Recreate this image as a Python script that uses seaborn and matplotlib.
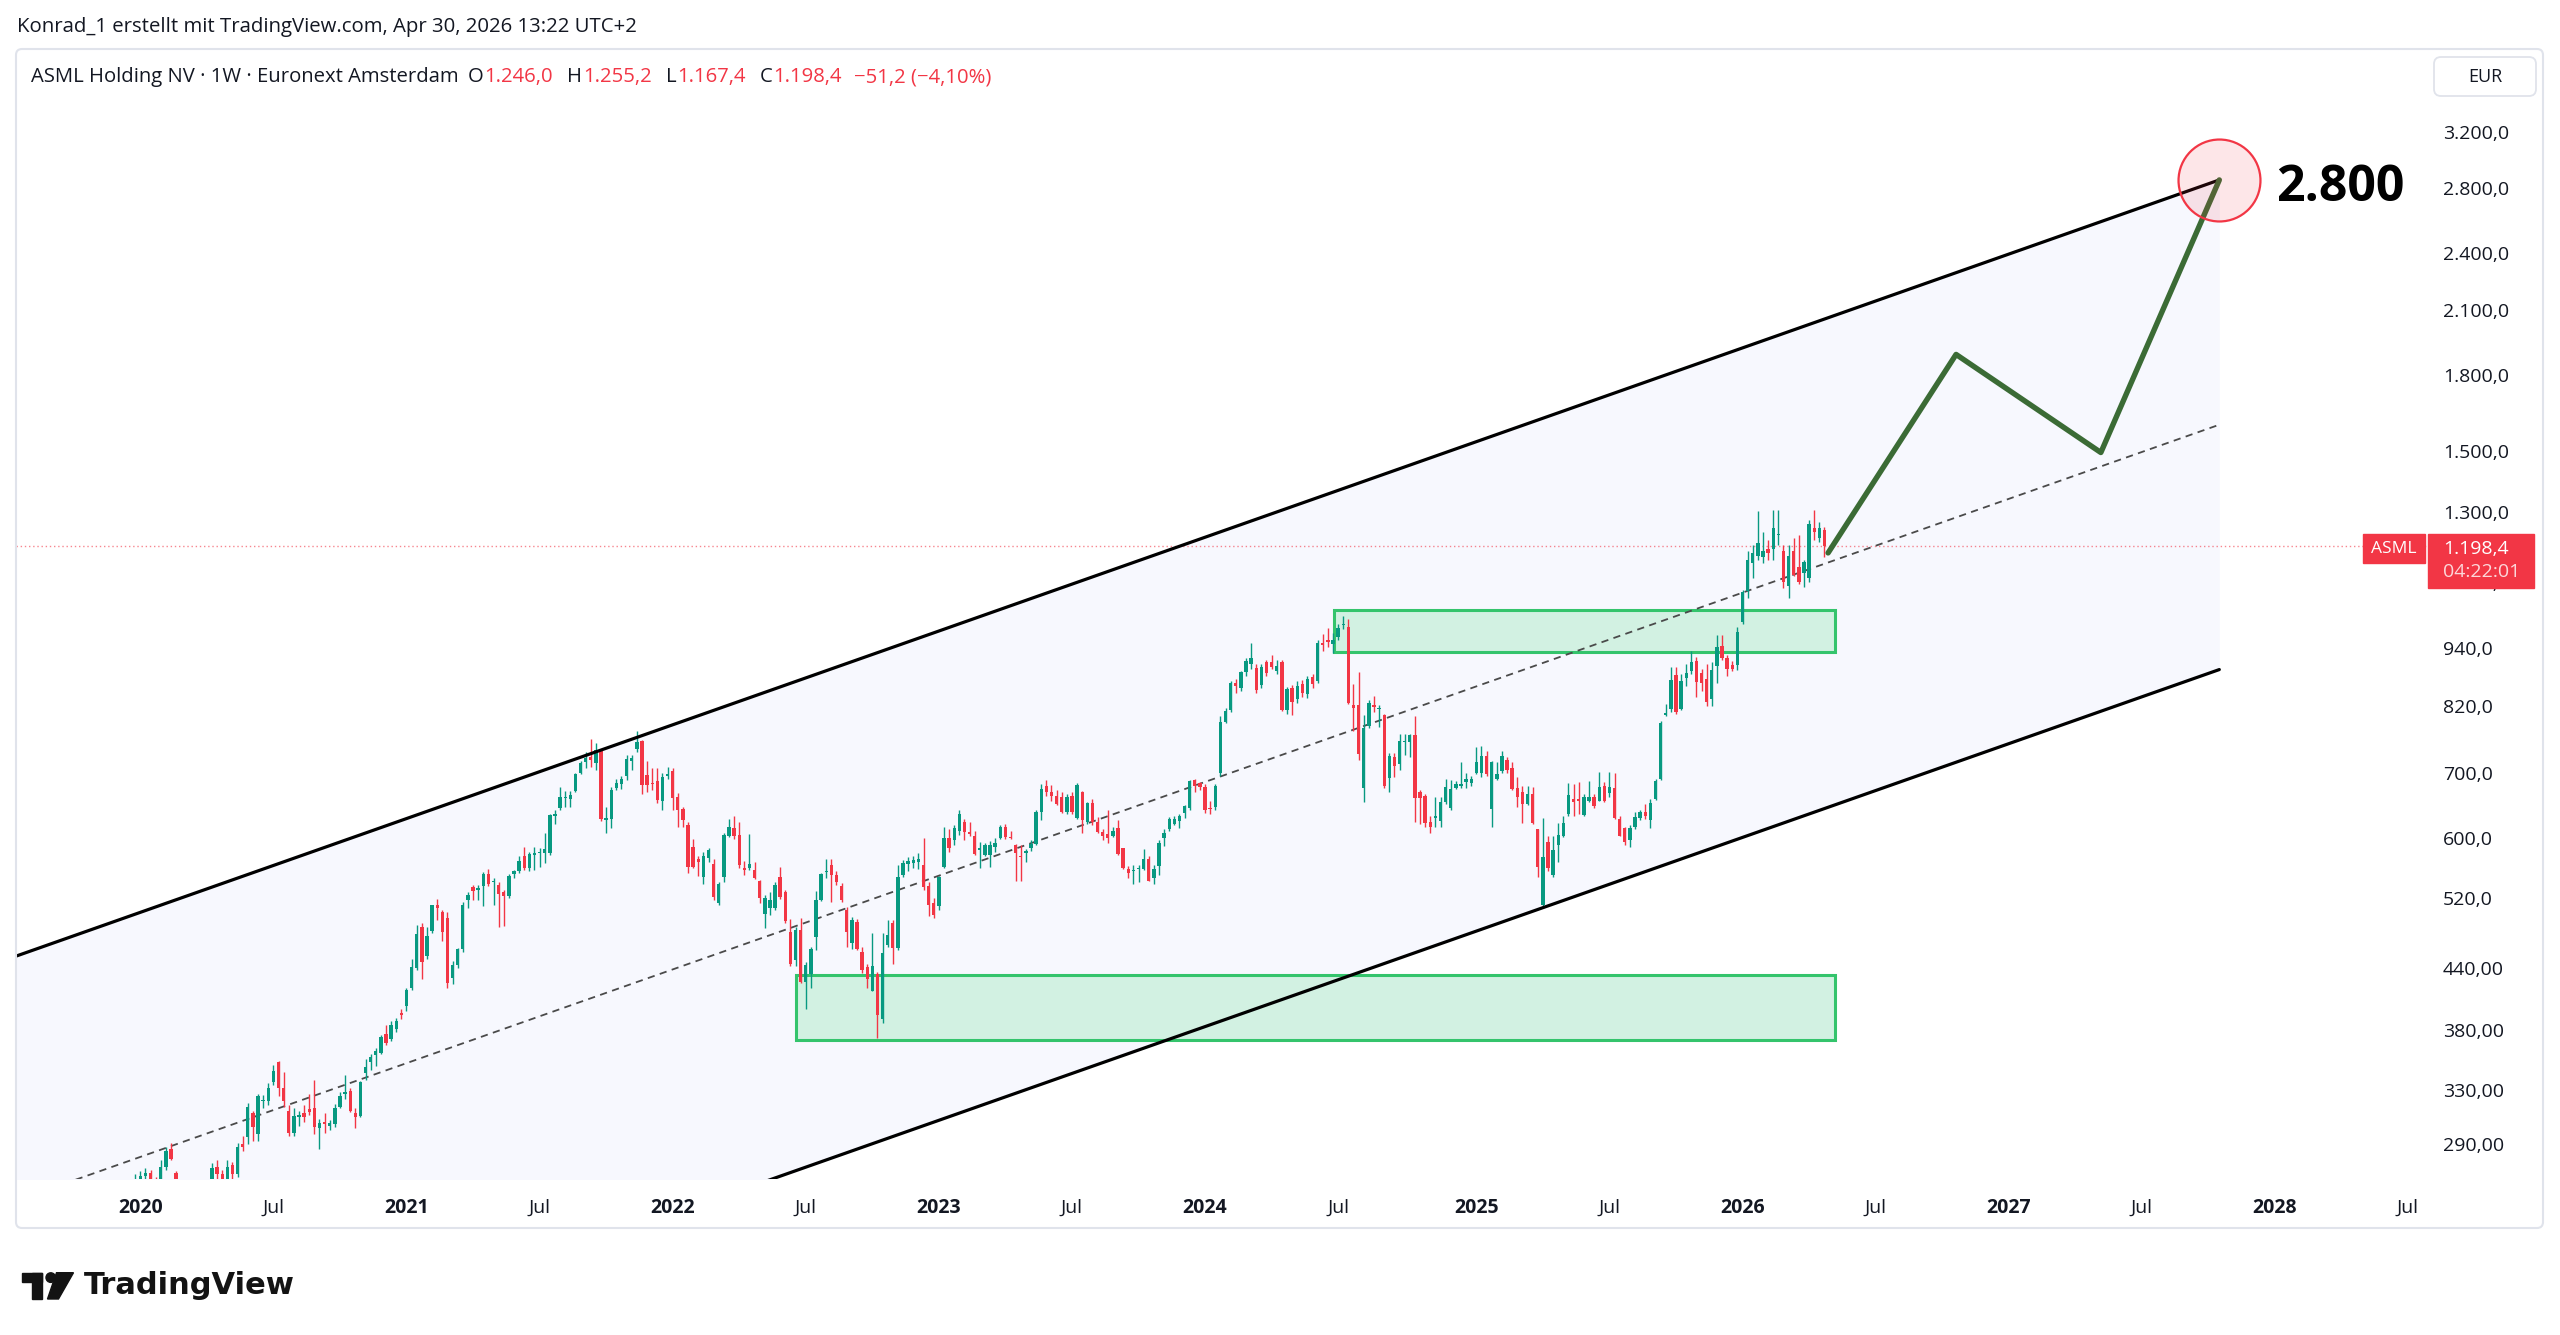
import numpy as np
import pandas as pd
import matplotlib
matplotlib.use("Agg")
import matplotlib.pyplot as plt
import matplotlib.dates as mdates
import matplotlib.ticker as mticker
from matplotlib.patches import Rectangle, Polygon, Circle, FancyBboxPatch
from matplotlib.transforms import IdentityTransform
import seaborn as sns

# ---------------------------------------------------------------- data
first_week = "2019-12-23"          # weekly bars (Monday), ASML Euronext, EUR

open_ = [
    262, 264, 267, 269, 271, 264, 258, 275, 287, 271,
    250, 240, 212, 208, 232, 234, 255, 275, 270, 262,
    276, 270, 290, 295, 312, 297, 321, 321, 336, 352,
    331, 314, 298, 309, 312, 315, 316, 301, 306, 303,
    304, 317, 327, 329, 312, 310, 343, 352, 358, 360,
    377, 372, 381, 396, 402, 420, 440, 485, 453, 481,
    512, 503, 496, 430, 444, 461, 517, 534, 530, 535,
    551, 540, 536, 528, 522, 551, 555, 574, 558, 576,
    578, 578, 579, 632, 643, 659, 658, 671, 700, 718,
    727, 716, 739, 625, 627, 675, 682, 694, 720, 740,
    755, 696, 682, 686, 654, 694, 702, 660, 642, 619,
    587, 570, 547, 572, 564, 514, 546, 603, 614, 604,
    558, 559, 556, 541, 501, 508, 508, 547, 528, 480,
    449, 482, 426, 434, 474, 518, 553, 562, 549, 535,
    505, 467, 491, 458, 441, 417, 434, 390, 465, 490,
    462, 549, 564, 565, 566, 562, 535, 514, 510, 560,
    599, 597, 610, 622, 608, 602, 583, 576, 576, 587,
    600, 616, 601, 589, 575, 579, 586, 591, 637, 679,
    669, 662, 660, 637, 663, 629, 669, 622, 651, 623,
    608, 605, 603, 614, 585, 557, 554, 557, 557, 570,
    545, 561, 600, 612, 620, 624, 636, 643, 688, 683,
    677, 644, 646, 700, 789, 812, 866, 855, 889, 905,
    897, 861, 911, 911, 892, 911, 812, 855, 833, 864,
    844, 878, 870, 953, 960, 950, 965, 993, 990, 822,
    822, 675, 782, 822, 814, 802, 691, 727, 714, 752,
    753, 765, 669, 663, 622, 628, 624, 653, 643, 675,
    679, 684, 683, 699, 699, 729, 642, 689, 702, 721,
    707, 675, 669, 650, 665, 612, 511, 594, 549, 589,
    602, 635, 657, 658, 633, 655, 660, 655, 679, 667,
    675, 627, 614, 597, 615, 628, 638, 625, 658, 690,
    802, 815, 883, 815, 876, 892, 913, 886, 874, 834,
    901, 945, 918, 903, 903, 1000, 1078, 1150, 1170, 1168,
    1191, 1190, 1230, 1185, 1090, 1185, 1139, 1125, 1110, 1250,
    1222, 1246.0,
]
high = [
    266, 270, 272, 274, 273, 268, 279, 288, 291, 272,
    262, 246, 225, 240, 242, 256, 277, 279, 273, 279,
    278, 291, 296, 320, 314, 327, 326, 335, 350, 353,
    344, 318, 316, 314, 318, 327, 338, 308, 312, 307,
    319, 328, 342, 331, 316, 337, 355, 359, 364, 376,
    385, 388, 391, 400, 420, 450, 488, 490, 485, 512,
    519, 506, 503, 448, 462, 515, 527, 536, 536, 553,
    557, 545, 540, 530, 550, 556, 575, 587, 580, 587,
    586, 606, 635, 640, 676, 671, 671, 699, 719, 736,
    759, 751, 741, 645, 676, 689, 695, 730, 730, 772,
    757, 720, 707, 707, 700, 710, 707, 667, 645, 622,
    598, 575, 580, 586, 570, 540, 606, 627, 631, 622,
    568, 605, 566, 543, 524, 527, 540, 560, 530, 495,
    485, 496, 447, 463, 529, 552, 571, 571, 555, 539,
    509, 497, 495, 463, 445, 478, 436, 478, 493, 494,
    562, 569, 573, 575, 578, 600, 540, 520, 548, 615,
    612, 618, 640, 627, 622, 610, 594, 592, 595, 600,
    619, 620, 610, 591, 590, 584, 597, 640, 682, 688,
    680, 672, 668, 665, 668, 683, 670, 653, 657, 630,
    612, 640, 615, 626, 586, 561, 563, 562, 584, 574,
    563, 597, 612, 630, 631, 635, 649, 688, 690, 685,
    681, 655, 681, 800, 816, 870, 875, 892, 918, 953,
    905, 905, 915, 925, 915, 915, 858, 862, 870, 872,
    880, 885, 960, 972, 986, 975, 995, 1015, 1007, 864,
    889, 802, 831, 840, 821, 804, 733, 733, 768, 768,
    768, 800, 672, 665, 631, 660, 660, 689, 688, 687,
    718, 700, 695, 744, 745, 737, 720, 718, 737, 727,
    718, 693, 678, 678, 676, 613, 628, 602, 602, 621,
    632, 683, 682, 684, 665, 686, 665, 701, 685, 701,
    700, 631, 616, 618, 637, 641, 650, 657, 690, 791,
    824, 899, 899, 885, 906, 935, 920, 895, 905, 910,
    970, 970, 925, 912, 990, 1080, 1185, 1200, 1303, 1240,
    1215, 1305, 1305, 1200, 1200, 1220, 1230, 1160, 1275, 1305,
    1270, 1255.2,
]
low = [
    258, 260, 258, 264, 262, 250, 256, 273, 279, 240,
    232, 200, 190, 205, 220, 230, 250, 265, 258, 260,
    266, 268, 285, 290, 292, 292, 316, 318, 334, 325,
    317, 296, 296, 303, 306, 311, 297, 287, 298, 300,
    302, 316, 323, 313, 301, 309, 338, 346, 349, 359,
    367, 370, 378, 390, 398, 418, 438, 429, 450, 478,
    494, 470, 420, 424, 440, 458, 508, 517, 517, 510,
    535, 512, 485, 487, 520, 545, 552, 556, 555, 556,
    560, 565, 576, 620, 640, 645, 645, 669, 697, 708,
    710, 705, 624, 606, 614, 672, 673, 688, 705, 736,
    666, 668, 672, 651, 641, 690, 641, 615, 615, 552,
    558, 548, 538, 566, 518, 511, 540, 601, 598, 558,
    549, 556, 544, 514, 484, 500, 506, 519, 490, 443,
    443, 425, 400, 420, 460, 516, 545, 515, 536, 515,
    463, 461, 460, 435, 420, 417, 373, 387, 463, 445,
    460, 546, 555, 558, 557, 530, 498, 496, 505, 558,
    580, 590, 604, 596, 602, 576, 558, 575, 560, 580,
    598, 598, 598, 542, 542, 566, 582, 589, 625, 663,
    655, 648, 636, 634, 634, 627, 606, 620, 619, 606,
    596, 593, 601, 576, 557, 545, 537, 540, 556, 541,
    538, 549, 588, 610, 618, 614, 628, 641, 668, 672,
    636, 635, 640, 695, 788, 808, 845, 850, 880, 895,
    846, 855, 880, 895, 885, 810, 805, 802, 825, 838,
    835, 855, 865, 935, 943, 930, 958, 985, 824, 772,
    722, 653, 778, 809, 780, 675, 669, 693, 705, 730,
    727, 622, 620, 615, 606, 615, 616, 650, 641, 673,
    675, 675, 678, 697, 693, 695, 615, 688, 700, 699,
    672, 645, 621, 648, 620, 547, 508, 555, 547, 567,
    601, 632, 632, 635, 632, 653, 643, 654, 653, 660,
    627, 602, 590, 587, 613, 625, 627, 614, 656, 688,
    800, 809, 805, 813, 860, 885, 838, 850, 820, 820,
    865, 915, 880, 890, 893, 995, 1060, 1110, 1160, 1150,
    1160, 1160, 1200, 1085, 1060, 1115, 1095, 1088, 1100, 1215,
    1210, 1167.4,
]
close = [
    264, 267, 269, 271, 266, 257, 275, 285, 280, 248,
    245, 214, 205, 233, 230, 252, 274, 270, 263, 275,
    270, 288, 288, 317, 302, 325, 322, 331, 345, 331,
    321, 298, 310, 311, 309, 313, 302, 305, 304, 305,
    316, 325, 328, 314, 309, 336, 348, 357, 362, 374,
    369, 385, 388, 394, 418, 441, 477, 447, 475, 511,
    508, 480, 425, 444, 461, 512, 524, 529, 532, 550,
    537, 542, 525, 522, 548, 554, 568, 558, 577, 578,
    580, 584, 633, 634, 660, 660, 664, 697, 716, 725,
    722, 739, 627, 628, 672, 683, 690, 723, 724, 752,
    680, 680, 681, 656, 693, 698, 659, 640, 626, 560,
    560, 566, 575, 583, 521, 538, 604, 615, 602, 562,
    556, 564, 545, 520, 520, 517, 536, 521, 492, 445,
    482, 426, 444, 461, 518, 550, 554, 549, 540, 518,
    480, 493, 461, 438, 429, 443, 394, 456, 476, 462,
    547, 565, 568, 569, 571, 534, 511, 500, 546, 600,
    585, 614, 635, 608, 605, 577, 585, 590, 590, 592,
    616, 601, 600, 579, 573, 582, 591, 638, 673, 668,
    662, 650, 638, 660, 638, 680, 625, 651, 622, 608,
    602, 600, 610, 577, 559, 552, 555, 558, 570, 542,
    557, 593, 606, 627, 627, 632, 647, 686, 678, 676,
    640, 642, 678, 790, 810, 866, 860, 889, 913, 918,
    852, 900, 886, 900, 901, 813, 853, 828, 859, 845,
    874, 864, 953, 947, 955, 960, 986, 995, 826, 816,
    732, 778, 825, 818, 816, 678, 728, 711, 754, 753,
    766, 659, 659, 621, 615, 631, 653, 677, 673, 682,
    682, 690, 689, 718, 729, 697, 718, 698, 728, 704,
    673, 661, 650, 665, 621, 560, 573, 558, 583, 604,
    621, 664, 653, 654, 661, 660, 647, 677, 655, 677,
    628, 603, 594, 614, 630, 638, 631, 652, 686, 788,
    806, 873, 808, 870, 887, 910, 868, 866, 828, 893,
    944, 918, 895, 895, 978, 1075, 1159, 1180, 1208, 1185,
    1180, 1250, 1232, 1100, 1170, 1120, 1100, 1155, 1262, 1240,
    1250, 1198.4,
]

price_ticks = [290, 330, 380, 440, 520, 600, 700, 820, 940, 1100,
               1300, 1500, 1800, 2100, 2400, 2800, 3200]
price_tick_labels = ["290,00", "330,00", "380,00", "440,00", "520,0", "600,0",
                     "700,0", "820,0", "940,0", "1.100,0", "1.300,0", "1.500,0",
                     "1.800,0", "2.100,0", "2.400,0", "2.800,0", "3.200,0"]
time_tick_dates = ["2020-01-06", "2020-07-06", "2021-01-04", "2021-07-05",
                   "2022-01-03", "2022-07-04", "2023-01-02", "2023-07-03",
                   "2024-01-01", "2024-07-01", "2025-01-06", "2025-07-07",
                   "2026-01-05", "2026-07-06", "2027-01-04", "2027-07-05",
                   "2028-01-03", "2028-07-03"]
time_tick_labels = ["2020", "Jul", "2021", "Jul", "2022", "Jul", "2023", "Jul",
                    "2024", "Jul", "2025", "Jul", "2026", "Jul", "2027", "Jul",
                    "2028", "Jul"]

channel_dates = ["2019-07-20", "2027-10-19"]
channel_upper = [453, 2856]
channel_mid = [253.6, 1598]
channel_lower = [142, 894]

zone_low_dates = ["2022-06-21", "2026-05-11"]
zone_low_prices = [371, 433]
zone_high_dates = ["2024-06-25", "2026-05-11"]
zone_high_prices = [933, 1029]

path_dates = ["2026-05-02", "2026-10-24", "2027-05-10", "2027-10-19"]
path_prices = [1179, 1888, 1496, 2856]

target_label = "2.800"
last_close = 1198.4
countdown = "04:22:01"
header_line = "Konrad_1 erstellt mit TradingView.com, Apr 30, 2026 13:22 UTC+2"
symbol_title = "ASML Holding NV · 1W · Euronext Amsterdam"
ohlc_letters = ["O", "H", "L", "C"]
ohlc_values = ["1.246,0", "1.255,2", "1.167,4", "1.198,4"]
change_text = "−51,2 (−4,10%)"

x_range = ["2019-07-20", "2028-07-29"]
y_range = [267, 3887]

# ---------------------------------------------------------------- style
sns.set_style("white")
plt.rcParams["font.family"] = ["Open Sans", "DejaVu Sans"]

W, H = 2560, 1335
GREEN, RED, INK = "#089981", "#f23645", "#131722"

fig = plt.figure(figsize=(W / 100, H / 100), dpi=100)
fig.patch.set_facecolor("white")


def fx(x):
    return x / W


def fy(y):
    return 1 - y / H


def xn(d):
    return mdates.date2num(pd.to_datetime(d))


PL, PR, PT, PB = 16, 2427, 50, 1179
ax = fig.add_axes([fx(PL), fy(PB), (PR - PL) / W, (PB - PT) / H])
ax.set_facecolor("white")
ax.set_yscale("log")

# channel
cd = [xn(d) for d in channel_dates]
ax.fill_between(cd, channel_lower, channel_upper, color="#f7f8fe", lw=0, zorder=0.5)
ax.plot(cd, channel_mid, color="#4a4a4a", lw=1.3, ls=(0, (4, 3)), zorder=1.5)

# zones
for zd, zp in [(zone_low_dates, zone_low_prices), (zone_high_dates, zone_high_prices)]:
    x0, x1 = xn(zd[0]), xn(zd[1])
    ax.add_patch(Rectangle((x0, zp[0]), x1 - x0, zp[1] - zp[0], facecolor="#d2f1e2",
                           edgecolor="#34c46c", lw=2.2, zorder=1))

# last price line
ax.axhline(last_close, color=RED, lw=1.0, ls=(0, (1, 2)), alpha=0.6, zorder=2)

# candles
dates = pd.date_range(first_week, periods=len(close), freq="W-MON")
xd = mdates.date2num(dates)
o, h, l, c = map(np.asarray, (open_, high, low, close))
cols = np.where(c >= o, GREEN, RED)
ax.vlines(xd, l, h, colors=cols, lw=1.0, zorder=3)
lo = np.minimum(o, c)
hi = np.maximum(np.maximum(o, c), lo * 1.0025)
ax.bar(xd, hi - lo, bottom=lo, width=4.6, color=cols, lw=0, zorder=3.1)

# channel borders
sns.lineplot(x=cd, y=channel_upper, ax=ax, color="black", lw=2.3, zorder=4)
sns.lineplot(x=cd, y=channel_lower, ax=ax, color="black", lw=2.3, zorder=4)

# projection path
sns.lineplot(x=[xn(d) for d in path_dates], y=path_prices, ax=ax, sort=False,
             color="#3b6b35", lw=3.9, zorder=5, solid_capstyle="round")

# target circle + label
tx, ty = xn(path_dates[-1]), path_prices[-1]
ax.plot([tx], [ty], marker="o", ms=59, mfc=(0.949, 0.212, 0.271, 0.12), mec=RED,
        mew=1.6, zorder=6, clip_on=False)
ax.annotate(target_label, xy=(tx, ty), xytext=(41, -6), textcoords="offset points",
            fontsize=36, fontweight="bold", ha="left", va="center", color="black", zorder=7)

# axes
ax.set_xlim(xn(x_range[0]), xn(x_range[1]))
ax.set_ylim(*y_range)
ax.yaxis.tick_right()
ax.set_yticks(price_ticks)
ax.set_yticklabels(price_tick_labels)
ax.yaxis.set_minor_locator(mticker.NullLocator())
ax.tick_params(axis="y", length=0, pad=11.5, labelsize=14, labelcolor=INK)
ax.set_xticks([xn(d) for d in time_tick_dates])
ax.set_xticklabels(time_tick_labels)
ax.tick_params(axis="x", length=0, pad=14, labelsize=14, labelcolor=INK)
for t in ax.get_xticklabels():
    if t.get_text() != "Jul":
        t.set_fontweight("bold")
for s in ax.spines.values():
    s.set_visible(False)
ax.grid(False)
ax.set_xlabel("")
ax.set_ylabel("")

ID = IdentityTransform()

# chart frame
fig.add_artist(FancyBboxPatch((16, H - 1228), 2527, 1179, boxstyle="round,pad=0,rounding_size=6",
                              ec="#e0e3eb", fc="none", lw=1.5, transform=ID, zorder=9))

# EUR box
fig.add_artist(FancyBboxPatch((2434, H - 96), 102, 39, boxstyle="round,pad=0,rounding_size=7",
                              ec="#e0e3eb", fc="white", lw=1.3, transform=ID, zorder=9))
fig.text(fx(2485), fy(77), "EUR", fontsize=13, color=INK, ha="center", va="center", zorder=10)

# price labels on axis
fig.add_artist(Rectangle((2428, H - 588), 106, 54, color=RED, transform=ID, zorder=10))
fig.text(fx(2443), fy(549), "1.198,4", fontsize=14, color="white", ha="left", va="center", zorder=11)
fig.text(fx(2443), fy(572), countdown, fontsize=14, color=(1, 1, 1, 0.8), ha="left", va="center", zorder=11)
fig.add_artist(Rectangle((2363, H - 563), 62, 29, color=RED, transform=ID, zorder=10))
fig.text(fx(2394), fy(549), "ASML", fontsize=12.5, color="white", ha="center", va="center", zorder=11)

# header texts
fig.text(fx(17), fy(27), header_line, fontsize=14.7, color=INK, ha="left", va="center")
renderer = fig.canvas.get_renderer()
segs = [(symbol_title, INK, 9)]
for i, (let, val) in enumerate(zip(ohlc_letters, ohlc_values)):
    segs.append((let, INK, 1))
    segs.append((val, RED, 14 if i < 3 else 12))
segs.append((change_text, RED, 0))
xcur = 31
for txt, col, gap in segs:
    t = fig.text(fx(xcur), fy(77), txt, fontsize=14.6, color=col, ha="left", va="center")
    bb = t.get_window_extent(renderer)
    xcur = bb.x1 + gap

# TradingView logo
fig.add_artist(Rectangle((21.7, H - 1282.3), 20, 9.6, color="#131313", transform=ID, zorder=10))
fig.add_artist(Rectangle((31.7, H - 1299), 10, 26.3, color="#131313", transform=ID, zorder=10))
fig.add_artist(Circle((50.8, H - 1277.6), 4.8, color="#131313", transform=ID, zorder=10))
fig.add_artist(Polygon([(56.5, H - 1272.7), (73.5, H - 1272.7), (58.5, H - 1299), (47.5, H - 1299)],
                       closed=True, color="#131313", transform=ID, zorder=10))
fig.text(fx(84), fy(1294), "TradingView", fontsize=22, fontweight="bold", color="#131313",
         ha="left", va="baseline", family="DejaVu Sans")

fig.savefig("out.png", dpi=100, facecolor="white")
